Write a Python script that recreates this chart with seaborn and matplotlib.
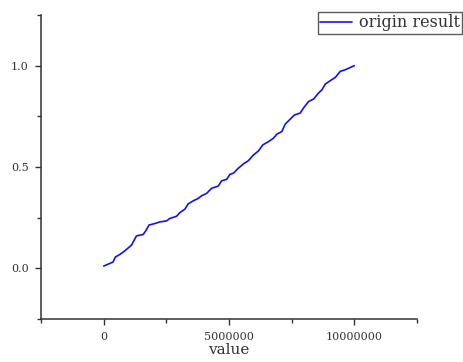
import numpy as np
import pandas as pd
import matplotlib
matplotlib.use("Agg")
import matplotlib.pyplot as plt
import matplotlib.ticker as mt
from matplotlib.lines import Line2D
import seaborn as sns

values = [0, 372000, 468000, 640000, 840000, 972000, 1108000, 1308000, 1572000,
          1668000, 1812000, 2040000, 2240000, 2508000, 2640000, 2908000, 3040000,
          3240000, 3372000, 3572000, 3772000, 3908000, 4108000, 4308000, 4572000,
          4708000, 4908000, 5040000, 5172000, 5372000, 5572000, 5772000, 5972000,
          6172000, 6348000, 6572000, 6772000, 6908000, 7108000, 7240000, 7440000,
          7612000, 7840000, 7972000, 8172000, 8372000, 8572000, 8708000, 8840000,
          9040000, 9240000, 9440000, 9640000, 10000000]
probs = [0.011, 0.031, 0.056, 0.068, 0.086, 0.100, 0.114, 0.160, 0.167,
         0.183, 0.214, 0.221, 0.229, 0.234, 0.246, 0.257, 0.275,
         0.292, 0.318, 0.333, 0.345, 0.358, 0.370, 0.395, 0.406,
         0.432, 0.439, 0.464, 0.469, 0.494, 0.515, 0.531, 0.559,
         0.579, 0.609, 0.625, 0.642, 0.662, 0.675, 0.711, 0.736,
         0.757, 0.766, 0.791, 0.823, 0.835, 0.865, 0.881, 0.909,
         0.926, 0.942, 0.972, 0.980, 1.000]
series_name = "origin result"
x_label = "value"

df = pd.DataFrame({"value": values, "prob": probs, "series": series_name})

sns.set_style("ticks")
plt.rcParams['font.family'] = ['DejaVu Serif', 'DejaVu Sans']

fig = plt.figure(figsize=(4.63, 3.62), dpi=100)
ax = fig.add_axes([41/463, 1-319/362, (417-41)/463, (319-15)/362])

sns.lineplot(data=df, x="value", y="prob", hue="series", palette=["#1010ff"],
             linewidth=1.2, ax=ax, legend=False, estimator=None, sort=False)

ax.set_xlim(-2.5e6, 12.5e6)
ax.set_ylim(-0.25, 1.25)
ax.xaxis.set_major_locator(mt.MultipleLocator(5e6))
ax.xaxis.set_minor_locator(mt.MultipleLocator(2.5e6))
ax.yaxis.set_major_locator(mt.MultipleLocator(0.5))
ax.yaxis.set_minor_locator(mt.MultipleLocator(0.25))
ax.xaxis.set_major_formatter(mt.FuncFormatter(lambda v, p: f"{int(round(v))}"))
ax.yaxis.set_major_formatter(mt.FuncFormatter(lambda v, p: f"{v:.1f}"))

for s in ["top", "right"]:
    ax.spines[s].set_visible(False)
for s in ["left", "bottom"]:
    ax.spines[s].set_color("#333333")
    ax.spines[s].set_linewidth(1.1)

ax.tick_params(axis="both", which="major", direction="out", length=4, width=1.0,
               color="#333333", labelsize=8, labelcolor="#333333", pad=5)
ax.tick_params(axis="both", which="minor", direction="out", length=3, width=1.0,
               color="#333333")
ax.set_xlabel(x_label, fontsize=11, color="#333333", labelpad=1)
ax.set_ylabel("")

handle = Line2D([0], [0], color="#1010ff", linewidth=1.2)
leg = fig.legend([handle], [series_name], loc="upper left",
                 bbox_to_anchor=(318/463, 1-12/362), fontsize=11.5,
                 frameon=True, fancybox=False, borderpad=0.15, borderaxespad=0,
                 handlelength=2.0, handletextpad=0.4)
leg.get_frame().set_edgecolor("#333333")
leg.get_frame().set_linewidth(1.0)
for t in leg.get_texts():
    t.set_color("#333333")

fig.savefig("out.png", dpi=100)
